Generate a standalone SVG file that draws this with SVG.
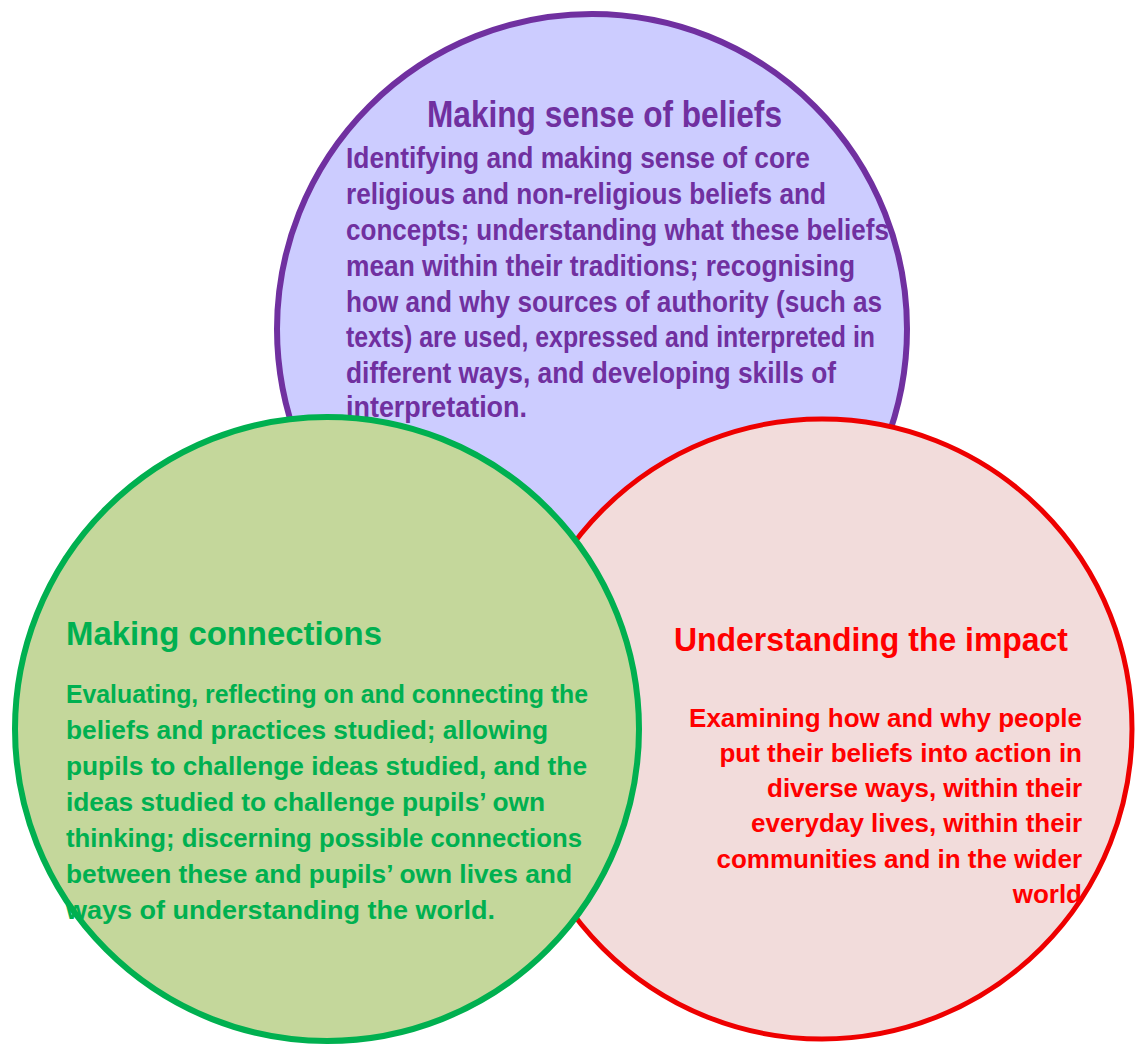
<svg xmlns="http://www.w3.org/2000/svg" width="1136" height="1046" viewBox="0 0 1136 1046">
  <style>
    .txt { font-family: "Liberation Sans", Arial, sans-serif; font-weight: bold; }
    .beliefs-shape { fill: #ccccff; stroke: #7030a0; stroke-width: 6; }
    .impact-shape { fill: #f2dcdb; stroke: #ee0000; stroke-width: 5; }
    .connect-shape { fill: #c4d79b; stroke: #00b050; stroke-width: 6; }
    .purple { fill: #7030a0; }
    .green { fill: #00b050; }
    .red { fill: #ff0000; }
    .head-p { font-size: 37px; }
    .body-p { font-size: 30px; }
    .head { font-size: 33px; }
    .body-g { font-size: 26.5px; }
    .body-r { font-size: 26px; }
  </style>

  <!-- Making sense of beliefs -->
  <g id="node-beliefs">
    <circle class="beliefs-shape" cx="592" cy="329" r="315"/>
    <g class="txt purple">
      <text class="head-p" x="427" y="127" textLength="355" lengthAdjust="spacingAndGlyphs">Making sense of beliefs</text>
      <g class="body-p">
        <text x="346" y="168" textLength="464" lengthAdjust="spacingAndGlyphs">Identifying and making sense of core</text>
        <text x="346" y="204" textLength="480" lengthAdjust="spacingAndGlyphs">religious and non-religious beliefs and</text>
        <text x="346" y="240" textLength="543" lengthAdjust="spacingAndGlyphs">concepts; understanding what these beliefs</text>
        <text x="346" y="276" textLength="509" lengthAdjust="spacingAndGlyphs">mean within their traditions; recognising</text>
        <text x="346" y="312" textLength="536" lengthAdjust="spacingAndGlyphs">how and why sources of authority (such as</text>
        <text x="346" y="347" textLength="529" lengthAdjust="spacingAndGlyphs">texts) are used, expressed and interpreted in</text>
        <text x="346" y="383" textLength="490" lengthAdjust="spacingAndGlyphs">different ways, and developing skills of</text>
        <text x="346" y="417" textLength="181" lengthAdjust="spacingAndGlyphs">interpretation.</text>
      </g>
    </g>
  </g>

  <!-- Understanding the impact -->
  <g id="node-impact">
    <circle class="impact-shape" cx="822" cy="729" r="310"/>
    <g class="txt red">
      <text class="head" x="674" y="651" textLength="394" lengthAdjust="spacingAndGlyphs">Understanding the impact</text>
      <g class="body-r" text-anchor="end">
        <text x="1082" y="727">Examining how and why people</text>
        <text x="1082" y="762">put their beliefs into action in</text>
        <text x="1082" y="797">diverse ways, within their</text>
        <text x="1082" y="832">everyday lives, within their</text>
        <text x="1082" y="868">communities and in the wider</text>
        <text x="1082" y="903">world</text>
      </g>
    </g>
  </g>

  <!-- Making connections -->
  <g id="node-connections">
    <circle class="connect-shape" cx="327" cy="729" r="312"/>
    <g class="txt green">
      <text class="head" x="66" y="645" textLength="316" lengthAdjust="spacingAndGlyphs">Making connections</text>
      <g class="body-g">
        <text x="66" y="703" textLength="522" lengthAdjust="spacingAndGlyphs">Evaluating, reflecting on and connecting the</text>
        <text x="66" y="739" textLength="482" lengthAdjust="spacingAndGlyphs">beliefs and practices studied; allowing</text>
        <text x="66" y="775" textLength="521" lengthAdjust="spacingAndGlyphs">pupils to challenge ideas studied, and the</text>
        <text x="66" y="811" textLength="479" lengthAdjust="spacingAndGlyphs">ideas studied to challenge pupils’ own</text>
        <text x="66" y="847" textLength="516" lengthAdjust="spacingAndGlyphs">thinking; discerning possible connections</text>
        <text x="66" y="883" textLength="506" lengthAdjust="spacingAndGlyphs">between these and pupils’ own lives and</text>
        <text x="66" y="919" textLength="429" lengthAdjust="spacingAndGlyphs">ways of understanding the world.</text>
      </g>
    </g>
  </g>

  <!-- no connectors in this figure -->
  <g id="connectors"/>
</svg>
